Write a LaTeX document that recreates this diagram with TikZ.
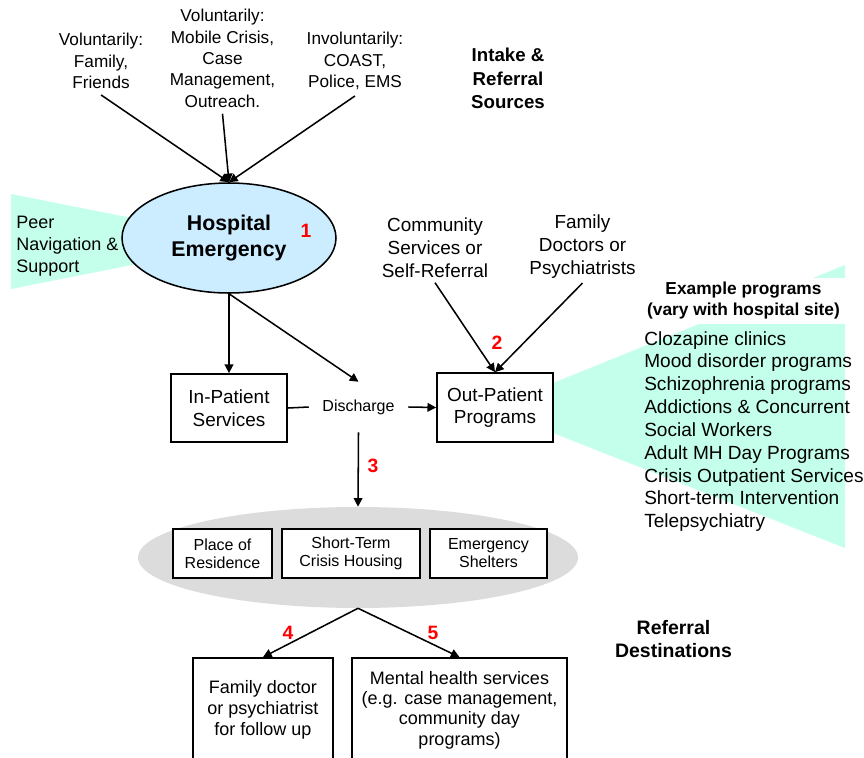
\documentclass[tikz,border=0pt]{standalone}
\usepackage{fontspec}
\setmainfont{Liberation Sans}
\usetikzlibrary{arrows.meta,shapes.geometric}
\definecolor{aqua}{RGB}{196,255,236}
\definecolor{hospblue}{RGB}{204,236,255}
\definecolor{lgray}{RGB}{220,220,220}
\begin{document}
\begin{tikzpicture}[x=0.75pt,y=-0.75pt,
  conn/.style={line width=1.15pt},
  arr/.style={conn,-{Triangle[length=6.5pt,width=6.5pt]}},
  box/.style={draw,line width=1.3pt,fill=white,align=center,inner sep=0pt},
  lbl/.style={align=center,inner sep=4.5pt},
  topfont/.style={font=\fontsize{12.9}{16}\selectfont},
  midfont/.style={font=\fontsize{14.2}{17.1}\selectfont},
  num/.style={text=red,inner sep=0pt,font=\fontsize{14.5}{16}\selectfont\bfseries},
  title/.style={align=center,inner sep=0pt}]
\useasboundingbox (0,0) rectangle (864,757);
\clip (0,0) rectangle (864,757);

% background fans
\fill[aqua] (11,194) -- (200,231.5) -- (200,251.5) -- (11,289) -- cycle;
\fill[aqua] (553,383) -- (845,265) -- (845,548) -- (553,433) -- cycle;

% intake sources
\node[lbl,topfont] (srcA) at (101,61) {Voluntarily:\\Family,\\Friends};
\node[lbl,topfont] (srcB) at (222.5,58.5) {Voluntarily:\\Mobile Crisis,\\Case\\Management,\\Outreach.};
\node[lbl,topfont] (srcC) at (355,61) {Involuntarily:\\COAST,\\Police, EMS};
\node[title,font=\fontsize{14}{17.6}\selectfont\bfseries] (intake) at (508,78.5) {Intake \&\\Referral\\Sources};

% hospital
\node[ellipse,draw,line width=1.15pt,fill=hospblue,minimum width=160.5pt,minimum height=82.5pt,
      inner sep=0pt,align=center,font=\fontsize{16}{19.5}\selectfont\bfseries] (hosp) at (229,238) {Hospital\\Emergency};
\node[num] (n1) at (306,231) {1};
\node[anchor=west,align=left,inner sep=0pt,font=\fontsize{13.5}{16.5}\selectfont] (peer) at (16,246) {Peer\\Navigation \&\\Support};

% community sources
\node[lbl,midfont,inner sep=3.5pt] (comm) at (435,248) {Community\\Services or\\Self-Referral};
\node[lbl,midfont,inner sep=3.5pt] (fam) at (582.5,246.5) {Family\\Doctors or\\Psychiatrists};
\node[num] (n2) at (497,343) {2};

% middle row
\node[box,midfont,minimum width=87pt,minimum height=51pt] (inpat) at (229,408) {In-Patient\\Services};
\node[box,midfont,minimum width=87pt,minimum height=51.75pt] (outpat) at (495,407.5) {Out-Patient\\Programs};
\node[inner sep=0pt,minimum width=74.25pt,minimum height=37.5pt,font=\fontsize{12}{14}\selectfont] (dis) at (358.5,407) {Discharge};
\node[num] (n3) at (373,466) {3};

% example programs
\node[fill=white,inner sep=0pt,minimum width=153.75pt,minimum height=34.5pt,align=center,
      font=\fontsize{13}{15.75}\selectfont\bfseries] (exhead) at (743.5,301) {Example programs\\(vary with hospital site)};
\node[anchor=west,align=left,inner sep=0pt,font=\fontsize{14.3}{17.14}\selectfont] (exlist) at (644,431.5)
  {Clozapine clinics\\Mood disorder programs\\Schizophrenia programs\\Addictions \& Concurrent\\Social Workers\\Adult MH Day Programs\\Crisis Outpatient Services\\Short-term Intervention\\Telepsychiatry};

% housing
\node[ellipse,fill=lgray,minimum width=330pt,minimum height=75.75pt,inner sep=0pt] (gray) at (358,557.5) {};
\node[box,font=\fontsize{12}{13.5}\selectfont,minimum width=74.25pt,minimum height=36.75pt] (res) at (222.5,553.5) {Place of\\Residence};
\node[box,font=\fontsize{12}{13.5}\selectfont,minimum width=103.5pt,minimum height=36.75pt] (crisis) at (351,553.5) {Short-Term\\Crisis Housing};
\node[box,font=\fontsize{12}{13.5}\selectfont,minimum width=87.75pt,minimum height=36.75pt] (shelter) at (488.5,553.5) {Emergency\\Shelters};

% referral destinations
\node[box,font=\fontsize{13.5}{15.5}\selectfont,minimum width=105pt,minimum height=78pt] (fdoc) at (263,710) {Family doctor\\or psychiatrist\\for follow up};
\node[box,font=\fontsize{13.5}{15.3}\selectfont,minimum width=161.25pt,minimum height=78pt] (mh) at (459.5,710) {Mental health services\\(e.g. case management,\\community day\\programs)};
\node[num] (n4) at (288,633) {4};
\node[num] (n5) at (433,633) {5};
\node[title,font=\fontsize{14.6}{17.25}\selectfont\bfseries] (refdest) at (673.5,639.5) {Referral\\Destinations};

% connectors
\draw[arr] (srcA.south) -- (hosp.north);
\draw[arr] (srcB.south) -- (hosp.north);
\draw[arr] (srcC.south) -- (hosp.north);
\draw[arr] (hosp.south) -- (inpat.north);
\draw[arr] (hosp.south) -- (dis.north);
\draw[conn] (inpat.east) -- (dis.west);
\draw[arr] (dis.east) -- (outpat.west);
\draw[arr] (dis.south) -- (gray.north);
\draw[arr] (comm.south) -- (outpat.north);
\draw[arr] (fam.south) -- (outpat.north);
\draw[arr] (gray.south) -- (fdoc.north);
\draw[arr] (gray.south) -- (mh.north);
\end{tikzpicture}
\end{document}
